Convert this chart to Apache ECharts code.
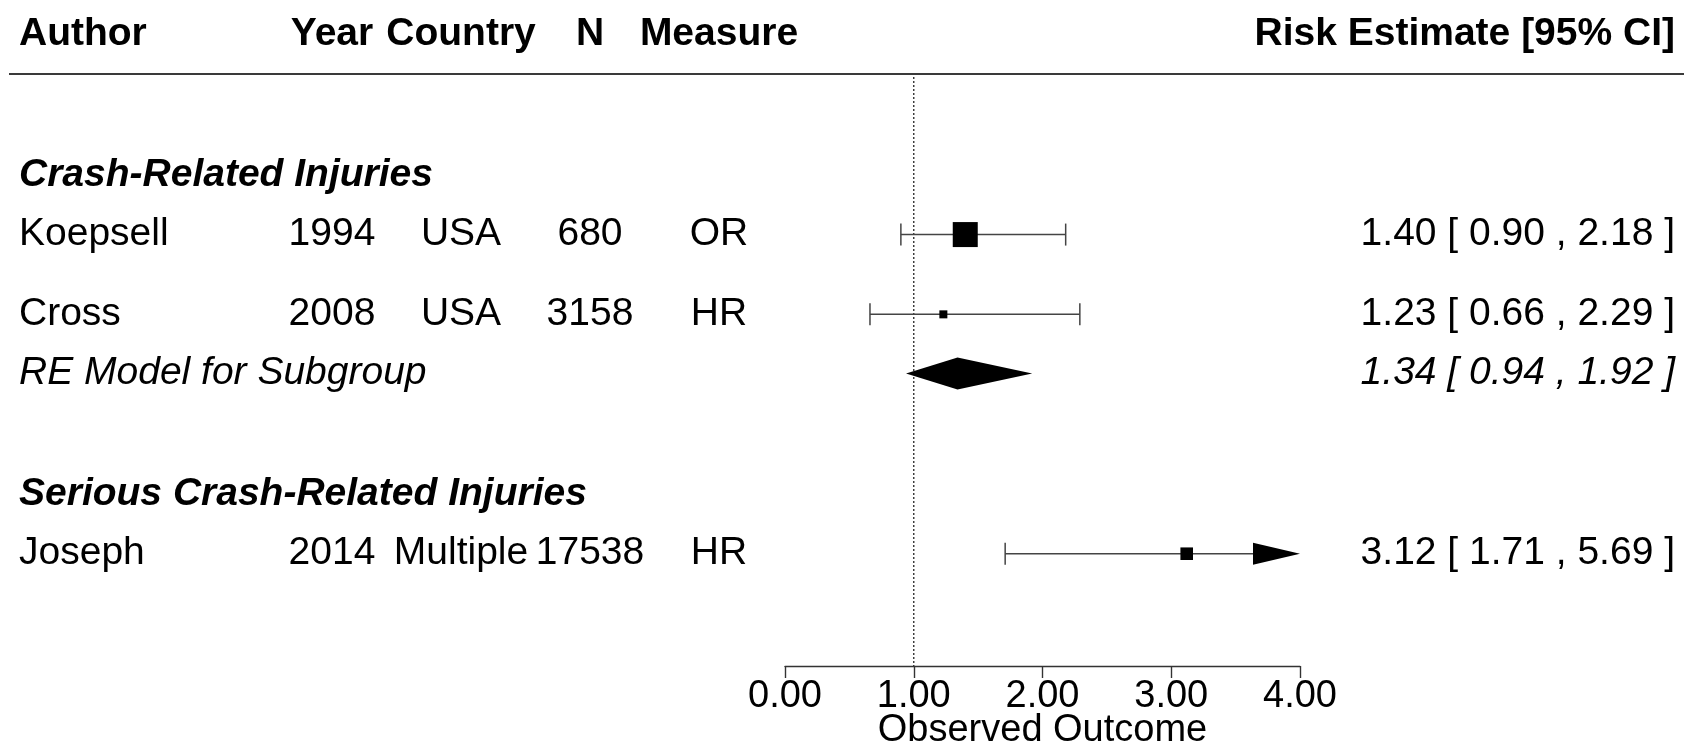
<!DOCTYPE html>
<html>
<head>
<meta charset="utf-8">
<title>Forest plot</title>
<script src="https://cdn.jsdelivr.net/npm/echarts@6/dist/echarts.min.js"></script>
<style>
    html, body { margin: 0; padding: 0; background: #fff; }
    #forestChart { width: 1684px; height: 745px; }
</style>
</head>
<body>
<div id="forestChart"></div>
<script>
// 研究数据
var authors = ['Koepsell', 'Cross', 'Joseph'];
var years = ['1994', '2008', '2014'];
var countries = ['USA', 'USA', 'Multiple'];
var sampleSizes = ['680', '3158', '17538'];
var measures = ['OR', 'HR', 'HR'];
var estimates = [1.40, 1.23, 3.12];
var lowerCI = [0.90, 0.66, 1.71];
var upperCI = [2.18, 2.29, 5.69];
var studyRows = [2.7, 4.05, 8.1];

// 分组标题
var groupNames = ['Crash-Related Injuries', 'Serious Crash-Related Injuries'];
var groupRows = [1.7, 7.1];

// 汇总 (RE model)
var summaryName = 'RE Model for Subgroup';
var summaryEst = [1.34];
var summaryLower = [0.94];
var summaryUpper = [1.92];
var summaryRows = [5.05];

var headers = ['Author', 'Year', 'Country', 'N', 'Measure', 'Risk Estimate [95% CI]'];
var headerRow = -0.69;
var xTicks = [0, 1, 2, 3, 4];

var FONT = '"Liberation Sans", Arial, sans-serif';
var TEXT_SIZE = 39;
var columns = [
    { x: 19, align: 'left' },
    { x: 332, align: 'center' },
    { x: 461, align: 'center' },
    { x: 590, align: 'center' },
    { x: 719, align: 'center' },
    { x: 1675, align: 'right' }
];

function fmtCI(e, lo, hi) {
    return e.toFixed(2) + ' [ ' + lo.toFixed(2) + ' , ' + hi.toFixed(2) + ' ]';
}

var myForestChart = function () {
    var xMin = xTicks[0], xMax = xTicks[xTicks.length - 1];

    // 方块大小按权重 (1/se^2, 对数尺度)
    var weights = estimates.map(function (e, i) {
        var se = (Math.log(upperCI[i]) - Math.log(lowerCI[i])) / (2 * 1.96);
        return 1 / (se * se);
    });
    var wMin = Math.min.apply(null, weights), wMax = Math.max.apply(null, weights);
    var boxSizes = weights.map(function (w) {
        return 8 + Math.sqrt((w - wMin) / (wMax - wMin)) * 17;
    });

    // 表格文字
    var tableRows = [];
    tableRows.push({ row: headerRow, cells: headers, weight: 'bold', style: 'normal' });
    groupNames.forEach(function (name, g) {
        tableRows.push({ row: groupRows[g], cells: [name], weight: 'bold', style: 'italic' });
    });
    authors.forEach(function (a, i) {
        tableRows.push({
            row: studyRows[i],
            cells: [a, years[i], countries[i], sampleSizes[i], measures[i], fmtCI(estimates[i], lowerCI[i], upperCI[i])],
            weight: 'normal', style: 'normal'
        });
    });
    summaryEst.forEach(function (e, k) {
        tableRows.push({
            row: summaryRows[k],
            cells: [summaryName, '', '', '', '', fmtCI(e, summaryLower[k], summaryUpper[k])],
            weight: 'normal', style: 'italic'
        });
    });

    var lineColor = '#444';

    var chart = echarts.init(document.getElementById('forestChart'));
    var option = {
        animation: false,
        backgroundColor: '#fff',
        grid: { left: 785, right: 384, top: 75, bottom: 79, containLabel: false, outerBoundsMode: 'none' },
        xAxis: {
            type: 'value',
            min: xMin,
            max: xMax,
            interval: 1,
            splitLine: { show: false },
            axisLine: { show: true, onZero: false, lineStyle: { color: '#333', width: 1.4 } },
            axisTick: { show: true, length: 12, lineStyle: { color: '#333', width: 1.4 } },
            axisLabel: {
                margin: 12, fontSize: 38, color: '#000', fontFamily: FONT,
                formatter: function (v) { return v.toFixed(2); }
            },
            name: 'Observed Outcome',
            nameLocation: 'middle',
            nameGap: 46,
            nameMoveOverlap: false,
            nameTextStyle: { fontSize: 38, color: '#000', fontFamily: FONT }
        },
        yAxis: {
            type: 'value',
            inverse: true,
            min: 0,
            max: 10,
            show: false
        },
        graphic: [{
            type: 'line',
            shape: { x1: 9, y1: 74, x2: 1684, y2: 74 },
            style: { stroke: '#3a3a3a', lineWidth: 2 }
        }],
        series: [
            {
                // 参考线 x = 1
                type: 'custom',
                data: [[1, 0, 10]],
                encode: { x: 0, y: 1 },
                renderItem: function (params, api) {
                    var p1 = api.coord([api.value(0), api.value(1)]);
                    var p2 = api.coord([api.value(0), api.value(2)]);
                    return {
                        type: 'line',
                        shape: { x1: p1[0], y1: p1[1] + 2, x2: p2[0], y2: p2[1] },
                        style: { stroke: '#333', lineWidth: 1.4, lineDash: [2, 2] }
                    };
                }
            },
            {
                // 各研究
                type: 'custom',
                data: estimates.map(function (e, i) {
                    return [e, lowerCI[i], upperCI[i], studyRows[i], boxSizes[i]];
                }),
                encode: { x: 0, y: 3 },
                renderItem: function (params, api) {
                    var est = api.value(0), lo = api.value(1), hi = api.value(2), row = api.value(3), s = api.value(4);
                    var pLo = api.coord([lo, row]);
                    var pEst = api.coord([est, row]);
                    var pHi = api.coord([Math.min(hi, xMax), row]);
                    var y = pEst[1];
                    var cap = 11, arrowLen = 47;
                    var end = hi > xMax ? pHi[0] - arrowLen : pHi[0];
                    var stroke = { stroke: lineColor, lineWidth: 1.5 };
                    var children = [
                        { type: 'line', shape: { x1: pLo[0], y1: y, x2: end, y2: y }, style: stroke },
                        { type: 'line', shape: { x1: pLo[0], y1: y - cap, x2: pLo[0], y2: y + cap }, style: stroke }
                    ];
                    if (hi > xMax) {
                        children.push({
                            type: 'polygon',
                            shape: { points: [[end, y - cap], [pHi[0], y], [end, y + cap]] },
                            style: { fill: '#000' }
                        });
                    } else {
                        children.push({ type: 'line', shape: { x1: pHi[0], y1: y - cap, x2: pHi[0], y2: y + cap }, style: stroke });
                    }
                    children.push({
                        type: 'rect',
                        shape: { x: pEst[0] - s / 2, y: y - s / 2, width: s, height: s },
                        style: { fill: '#000' }
                    });
                    return { type: 'group', children: children };
                }
            },
            {
                // 汇总菱形
                type: 'custom',
                data: summaryEst.map(function (e, k) {
                    return [e, summaryLower[k], summaryUpper[k], summaryRows[k]];
                }),
                encode: { x: 0, y: 3 },
                renderItem: function (params, api) {
                    var row = api.value(3);
                    var pE = api.coord([api.value(0), row]);
                    var pL = api.coord([api.value(1), row]);
                    var pU = api.coord([api.value(2), row]);
                    var h = 16;
                    return {
                        type: 'polygon',
                        shape: { points: [[pL[0], pE[1]], [pE[0], pE[1] - h], [pU[0], pE[1]], [pE[0], pE[1] + h]] },
                        style: { fill: '#000' }
                    };
                }
            },
            {
                // 表格文字
                type: 'custom',
                data: tableRows.map(function (r) { return [0, r.row]; }),
                encode: { x: 0, y: 1 },
                renderItem: function (params, api) {
                    var r = tableRows[params.dataIndex];
                    var y = api.coord([0, api.value(1)])[1];
                    var children = [];
                    r.cells.forEach(function (txt, c) {
                        if (!txt) return;
                        children.push({
                            type: 'text',
                            x: columns[c].x,
                            y: y,
                            style: {
                                text: txt,
                                fill: '#000',
                                fontFamily: FONT,
                                fontSize: TEXT_SIZE,
                                fontWeight: r.weight,
                                fontStyle: r.style,
                                align: columns[c].align,
                                verticalAlign: 'middle'
                            }
                        });
                    });
                    return { type: 'group', children: children };
                }
            }
        ]
    };
    chart.setOption(option);
};

myForestChart();
</script>
</body>
</html>
